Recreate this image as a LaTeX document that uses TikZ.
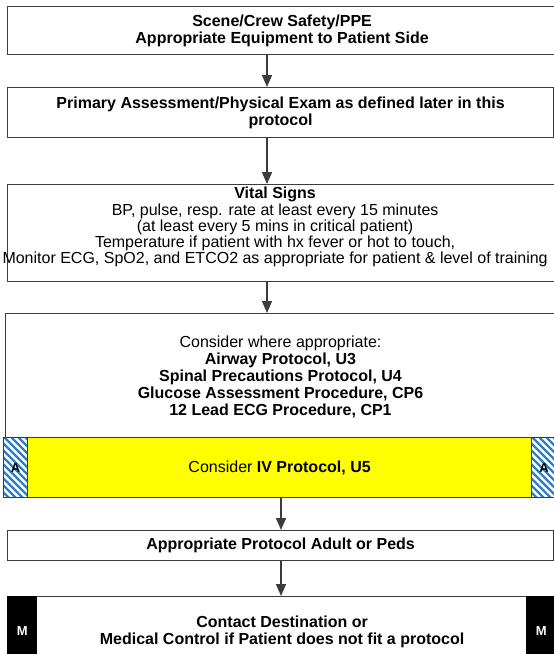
\documentclass[tikz,border=0pt]{standalone}
\usepackage{fontspec}
\setmainfont{Liberation Sans}
\usetikzlibrary{arrows.meta, positioning, calc}

\begin{document}
\begin{tikzpicture}[x=1pt, y=-1pt, >={Triangle[width=10pt,length=12pt]}, line join=miter]
	\definecolor{frame}{RGB}{60,60,60}
	\definecolor{stripe}{RGB}{45,125,200}
	\definecolor{ivyellow}{RGB}{255,255,0}
	
	\tikzset{
		box/.style={draw=frame, line width=1.2pt, fill=white, inner sep=0pt, anchor=north west},
		txt/.style={align=center, font=\fontsize{16}{17}\selectfont, inner sep=0pt},
		arr/.style={->, draw=frame, line width=1.4pt, fill=frame},
		tabtxt/.style={font=\fontsize{13}{13}\bfseries\selectfont, inner sep=0pt, anchor=north west},
		atab/.style={tabtxt, draw=frame, line width=1.2pt, fill=white,
			path picture={\foreach \k in {-90,-83,...,40}
				\draw[stripe, line width=2.4pt] ($(path picture bounding box.north west)+(\k,0)$) -- ++(70,70);}},
		mtab/.style={tabtxt, fill=black, text=white}
	}
	
	\useasboundingbox (0,0) rectangle (554,654);
	
	\coordinate (a1) at (267,0);
	\coordinate (a2) at (281,0);
	
	% boxes
	\node[box, txt, minimum width=549pt, minimum height=48pt] (scene) at (7,6)
	{\bfseries Scene/Crew Safety/PPE\\\bfseries Appropriate Equipment to Patient Side};
	
	\node[box, txt, minimum width=546pt, minimum height=50pt] (primary) at (7,87)
	{\bfseries Primary Assessment/Physical Exam as defined later in this\\\bfseries protocol};
	
	\node[box, minimum width=549pt, minimum height=97pt] (vitals) at (7,184) {};
	\node[txt, font=\fontsize{16}{16.2}\selectfont] (vitalstxt) at ($(vitals.center)+(-7,-6)$)
	{\textbf{Vital Signs}\\
		BP, pulse, resp. rate at least every 15 minutes\\
		(at least every 5 mins in critical patient)\\
		Temperature if patient with hx fever or hot to touch,\\
		Monitor ECG, SpO2, and ETCO2 as appropriate for patient \& level of training};
	
	\node[box, minimum width=551pt, minimum height=184pt] (consider) at (5,313) {};
	\node[txt] (considertxt) at (280.5,377)
	{Consider where appropriate:\\
		\textbf{Airway Protocol, U3}\\
		\textbf{Spinal Precautions Protocol, U4}\\
		\textbf{Glucose Assessment Procedure, CP6}\\
		\textbf{12 Lead ECG Procedure, CP1}};
	
	% IV row with A tabs
	\node[box, txt, fill=ivyellow, minimum width=504pt, minimum height=60pt] (iv) at (27,437)
	{Consider \textbf{IV Protocol, U5}};
	\node[atab, minimum width=24pt, minimum height=60pt] (aleft) at (3,437) {A};
	\node[atab, minimum width=25pt, minimum height=60pt] (aright) at (531,437) {A};
	
	\node[box, txt, minimum width=546pt, minimum height=30pt] (adultpeds) at (7,530)
	{\bfseries Appropriate Protocol Adult or Peds};
	
	\node[box, txt, minimum width=549pt, minimum height=70pt] (contact) at (7,596)
	{\bfseries Contact Destination or\\\bfseries Medical Control if Patient does not fit a protocol};
	\node[mtab, minimum width=30pt, minimum height=70pt] (mleft) at (7,596) {M};
	\node[mtab, minimum width=30pt, minimum height=70pt] (mright) at (526,596) {M};
	
	% arrows
	\draw[arr] (scene.south -| a1) -- (primary.north -| a1);
	\draw[arr] (primary.south -| a1) -- (vitals.north -| a1);
	\draw[arr] (vitals.south -| a1) -- (consider.north -| a1);
	\draw[arr] (consider.south -| a2) -- (adultpeds.north -| a2);
	\draw[arr] (adultpeds.south -| a2) -- (contact.north -| a2);
	
\end{tikzpicture}
\end{document}
